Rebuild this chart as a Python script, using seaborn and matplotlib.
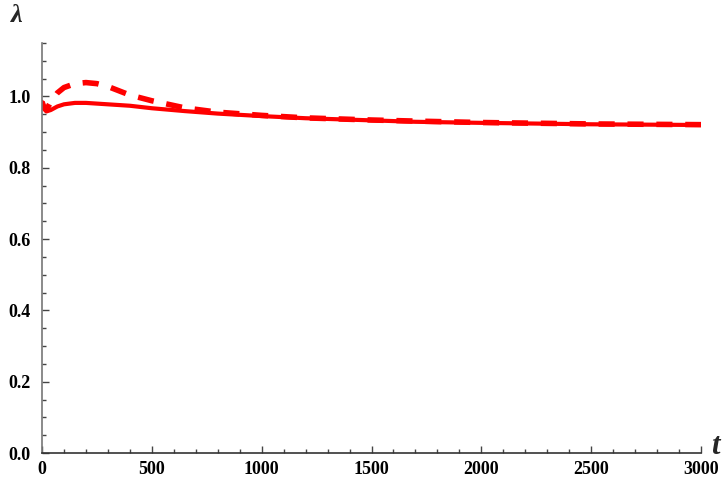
import matplotlib
matplotlib.use("Agg")
import matplotlib.pyplot as plt
import seaborn as sns
import pandas as pd
from matplotlib.ticker import MultipleLocator

t = [0, 10, 20, 40, 70, 100, 150, 200, 250, 300, 400, 500, 650, 800,
     1000, 1200, 1500, 1700, 2000, 2500, 3000]
lam_solid = [0.985, 0.965, 0.958, 0.962, 0.972, 0.978, 0.982, 0.982, 0.980,
             0.978, 0.974, 0.967, 0.959, 0.952, 0.945, 0.939, 0.933, 0.929,
             0.926, 0.922, 0.920]
lam_dashed = [0.985, 0.968, 0.962, 0.985, 1.010, 1.025, 1.036, 1.039, 1.036,
              1.028, 1.004, 0.988, 0.968, 0.956, 0.947, 0.940, 0.934, 0.931,
              0.927, 0.923, 0.921]

x_ticks = [0, 500, 1000, 1500, 2000, 2500, 3000]
y_ticks = [0.0, 0.2, 0.4, 0.6, 0.8, 1.0]

sns.set_style("ticks")
plt.rcParams['font.family'] = ['Liberation Serif', 'DejaVu Serif']
plt.rcParams['font.weight'] = 'bold'

fig = plt.figure(figsize=(7.28, 4.88), dpi=100)
ax = fig.add_axes([42/728, 1-453/488, (701-42)/728, (453-43)/488])

df = pd.DataFrame({"t": t, "solid": lam_solid, "dashed": lam_dashed})
sns.lineplot(data=df, x="t", y="solid", ax=ax, color="#ff0000", lw=3.0)
sns.lineplot(data=df, x="t", y="dashed", ax=ax, color="#ff0000", lw=4.0,
             linestyle=(0, (2.9, 2.3)))

ax.set_xlim(0, 3000)
ax.set_ylim(0, 1.15)
ax.set_xticks(x_ticks)
ax.set_yticks(y_ticks)
ax.set_xticklabels([str(v) for v in x_ticks])
ax.set_yticklabels([f"{v:.1f}" for v in y_ticks])
ax.xaxis.set_minor_locator(MultipleLocator(100))
ax.yaxis.set_minor_locator(MultipleLocator(0.05))
ax.tick_params(which='both', direction='in', colors='#444444',
               labelcolor='black', labelsize=13, width=1)
ax.tick_params(which='major', length=5)
ax.tick_params(which='minor', length=3)
ax.tick_params(axis='x', pad=6)
ax.tick_params(axis='y', pad=8)
for lbl in ax.get_xticklabels() + ax.get_yticklabels():
    lbl.set_fontweight('bold')

for s in ['top', 'right']:
    ax.spines[s].set_visible(False)
ax.spines['left'].set_color('#777777')
ax.spines['bottom'].set_color('#333333')
ax.spines['left'].set_linewidth(1.2)
ax.spines['bottom'].set_linewidth(1.2)

ax.set_xlabel("")
ax.set_ylabel("")
fig.text(17/728, 1-16/488, "λ", fontsize=19, fontstyle='italic',
         fontweight='bold', ha='center', va='center')
fig.text(715/728, 1-446/488, "t", fontsize=22, fontstyle='italic',
         fontweight='bold', ha='center', va='center')

fig.savefig("out.png", dpi=100)
